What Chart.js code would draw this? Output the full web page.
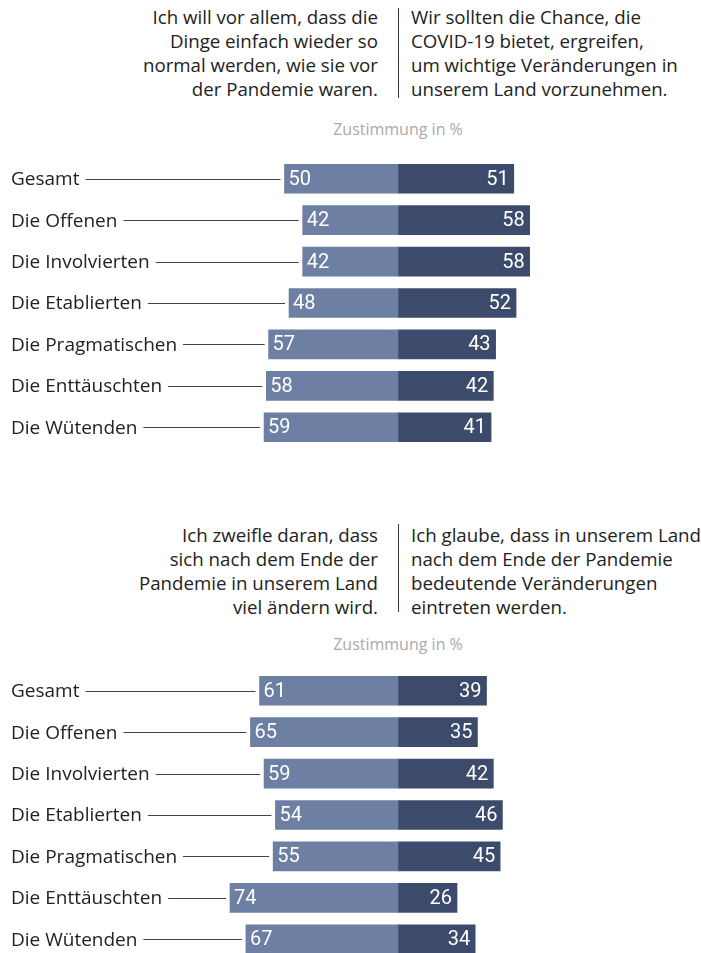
<!DOCTYPE html>
<html>
<head>
<meta charset="utf-8">
<script src="https://cdn.jsdelivr.net/npm/chart.js@4"></script>
<style>
    body { margin: 0; background: #fff; width: 701px; height: 953px; position: relative; overflow: hidden; font-family: "Open Sans", sans-serif; color: #222; }
    .q { position: absolute; font-size: 18.7px; line-height: 24px; white-space: nowrap; }
    .q-left { right: 323px; text-align: right; }
    .q-right { left: 411px; text-align: left; }
    .divider { position: absolute; left: 398px; width: 1px; background: #333; }
    .unit { position: absolute; left: 0; width: 796px; text-align: center; font-size: 16px; color: #aaa; }
    .chart-box { position: absolute; left: 0; width: 701px; }
</style>
</head>
<body>
    <div class="q q-left" style="top:5px">Ich will vor allem, dass die<br>Dinge einfach wieder so<br>normal werden, wie sie vor<br>der Pandemie waren.</div>
    <div class="divider" style="top:8px; height:90px"></div>
    <div class="q q-right" style="top:5px">Wir sollten die Chance, die<br>COVID-19 bietet, ergreifen,<br>um wichtige Veränderungen in<br>unserem Land vorzunehmen.</div>
    <div class="unit" style="top:118px">Zustimmung in %</div>
    <div class="chart-box" style="top:158px; height:290px"><canvas id="chart1"></canvas></div>

    <div class="q q-left" style="top:523px">Ich zweifle daran, dass<br>sich nach dem Ende der<br>Pandemie in unserem Land<br>viel ändern wird.</div>
    <div class="divider" style="top:524px; height:88px"></div>
    <div class="q q-right" style="top:523px">Ich glaube, dass in unserem Land<br>nach dem Ende der Pandemie<br>bedeutende Veränderungen<br>eintreten werden.</div>
    <div class="unit" style="top:633px">Zustimmung in %</div>
    <div class="chart-box" style="top:670px; height:290px"><canvas id="chart2"></canvas></div>

<script>
const groups = ["Gesamt", "Die Offenen", "Die Involvierten", "Die Etablierten", "Die Pragmatischen", "Die Enttäuschten", "Die Wütenden"];
const normalValues = [50, 42, 42, 48, 57, 58, 59];
const changeValues = [51, 58, 58, 52, 43, 42, 41];
const doubtValues = [61, 65, 59, 54, 55, 74, 67];
const believeValues = [39, 35, 42, 46, 45, 26, 34];

const LIGHT = "#6d7fa3";
const DARK = "#3c4b6c";

const labelPlugin = {
    id: "rowLabels",
    afterDatasetsDraw(chart) {
        const ctx = chart.ctx;
        const left = chart.getDatasetMeta(0).data;
        const right = chart.getDatasetMeta(1).data;
        ctx.save();
        ctx.textBaseline = "middle";
        left.forEach((bar, i) => {
            const y = bar.y;
            const barLeft = Math.min(bar.x, bar.base);
            // category name + connector line
            ctx.font = "19px 'Open Sans'";
            ctx.fillStyle = "#222";
            ctx.textAlign = "left";
            ctx.fillText(chart.data.labels[i], 11, y + 1);
            const w = ctx.measureText(chart.data.labels[i]).width;
            ctx.strokeStyle = "#444";
            ctx.lineWidth = 1;
            ctx.beginPath();
            ctx.moveTo(11 + w + 6, Math.round(y) + 0.5);
            ctx.lineTo(barLeft - 4, Math.round(y) + 0.5);
            ctx.stroke();
            // values
            ctx.font = "20px Roboto";
            ctx.fillStyle = "#fff";
            ctx.fillText(String(Math.abs(chart.data.datasets[0].data[i])), barLeft + 4, y + 1);
            const r = right[i];
            ctx.textAlign = "right";
            ctx.fillText(String(chart.data.datasets[1].data[i]), Math.max(r.x, r.base) - 5, y + 1);
            ctx.textAlign = "left";
        });
        ctx.restore();
    }
};

function makeChart(id, leftVals, rightVals) {
    return new Chart(document.getElementById(id), {
        type: "bar",
        data: {
            labels: groups,
            datasets: [
                { data: leftVals.map(v => -v), backgroundColor: LIGHT, barThickness: 29 },
                { data: rightVals, backgroundColor: DARK, barThickness: 29 }
            ]
        },
        options: {
            indexAxis: "y",
            responsive: true, maintainAspectRatio: false,
            animation: false,
            layout: { padding: 0 },
            plugins: { legend: { display: false }, tooltip: { enabled: false } },
            scales: {
                x: { stacked: true, display: false, min: -398 / 2.27, max: 303 / 2.27 },
                y: { stacked: true, display: false }
            }
        },
        plugins: [labelPlugin]
    });
}

makeChart("chart1", normalValues, changeValues);
makeChart("chart2", doubtValues, believeValues);
</script>
</body>
</html>
